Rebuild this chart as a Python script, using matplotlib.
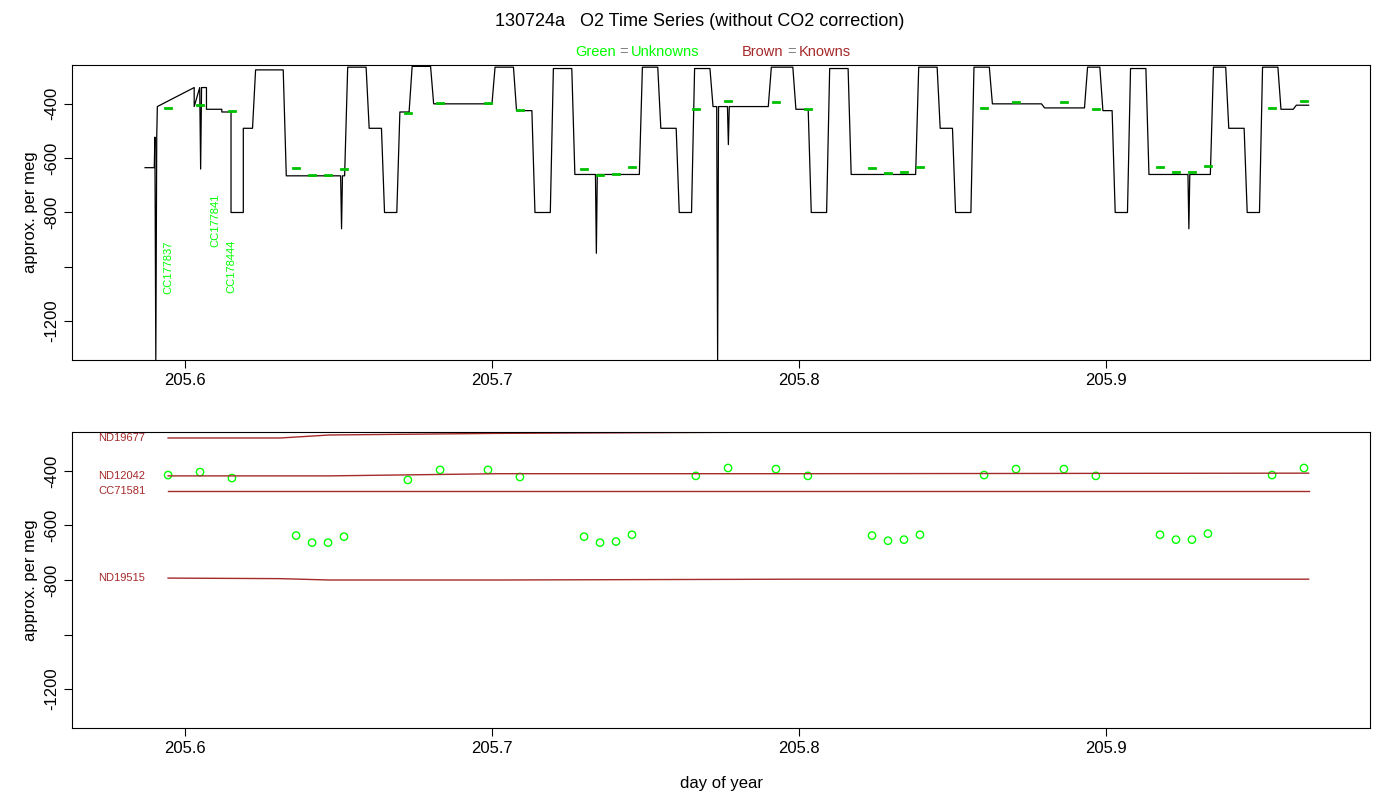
import numpy as np
import matplotlib
matplotlib.use("Agg")
import matplotlib.pyplot as plt

plt.rcParams["font.family"] = "Liberation Sans"

# ---- top panel: plateau segments (start day, end day, level) ----
seg_start = [205.587,205.591,205.603,205.607,205.612,205.615,205.619,205.623,205.633,205.653,205.660,205.665,205.670,205.674,205.681,205.701,205.708,205.714,205.720,205.727,205.749,205.755,205.761,205.766,205.772,205.791,205.799,205.804,205.810,205.817,205.839,205.846,205.851,205.857,205.863,205.880,205.894,205.899,205.903,205.908,205.914,205.935,205.940,205.946,205.951,205.957,205.962]
seg_end   = [205.590,205.603,205.607,205.612,205.615,205.619,205.622,205.632,205.652,205.659,205.664,205.669,205.673,205.680,205.700,205.707,205.713,205.719,205.726,205.748,205.754,205.760,205.765,205.771,205.790,205.798,205.803,205.809,205.816,205.838,205.845,205.850,205.856,205.862,205.879,205.893,205.898,205.902,205.907,205.913,205.934,205.939,205.945,205.950,205.956,205.961,205.966]
seg_level = [-635,-410,-340,-420,-430,-800,-490,-275,-665,-265,-490,-800,-430,-262,-400,-265,-425,-800,-270,-660,-265,-490,-800,-270,-410,-265,-420,-800,-270,-660,-265,-490,-800,-265,-400,-415,-265,-425,-800,-270,-660,-265,-490,-800,-265,-420,-405]
spike_t = [205.5905,205.6051,205.6510,205.7340,205.7735,205.7770,205.9270]
spike_v = [-1343,-640,-860,-950,-1343,-550,-860]

# ---- bottom panel: standards and unknowns ----
std_names = ["ND19677","ND12042","CC71581","ND19515"]
std_t = [205.5945,205.631,205.647,205.702,205.800,205.966]
std_vals = {
    "ND19677":[-279,-279,-268,-262,-257,-257],
    "ND12042":[-418,-418,-418,-410,-410,-408],
    "CC71581":[-473,-473,-473,-473,-473,-473],
    "ND19515":[-793,-795,-800,-800,-797,-797],
}
unk_t = [205.5945,205.6049,205.6153,205.6362,205.6414,205.6466,205.6518,205.6726,205.6831,205.6987,205.7091,205.7300,205.7352,205.7404,205.7456,205.7664,205.7769,205.7925,205.8029,205.8238,205.8290,205.8342,205.8394,205.8603,205.8707,205.8863,205.8967,205.9176,205.9228,205.9280,205.9332,205.9541,205.9645]
unk_v = [-415,-404,-426,-637,-663,-663,-641,-433,-396,-396,-422,-641,-663,-659,-634,-418,-389,-393,-418,-637,-656,-652,-634,-415,-393,-393,-418,-634,-652,-652,-630,-415,-389]
unk_labels = [("CC177837",205.5945,-1000),("CC177841",205.6100,-830),("CC178444",205.6150,-1000)]

xticks = [205.6,205.7,205.8,205.9]
yticks = [-400,-600,-800,-1000,-1200]
yticklabels = ["-400","-600","-800","","-1200"]
brown = "#a52a2a"
green = "#00ff00"

fig = plt.figure(figsize=(14,8), dpi=100)
ax1 = fig.add_axes([72/1400, 1-360/800, 1298/1400, 295/800])
ax2 = fig.add_axes([72/1400, 1-728/800, 1298/1400, 296/800])

# build top series
pt_t, pt_v = [], []
for s,e,v in zip(seg_start,seg_end,seg_level):
    pt_t += [s,e]; pt_v += [v,v]
pt_t = np.array(pt_t); pt_v = np.array(pt_v)
allt = list(pt_t); allv = list(pt_v)
for t,v in zip(spike_t,spike_v):
    b = np.interp(t, pt_t, pt_v)
    allt += [t-0.0003, t, t+0.0003]; allv += [b, v, b]
o = np.argsort(allt)
ax1.plot(np.array(allt)[o], np.array(allv)[o], color="black", lw=0.9)
for t,v in zip(unk_t,unk_v):
    ax1.plot([t-0.001,t+0.001],[v,v],color="#00c000",lw=2)
for name,t,v in unk_labels:
    ax1.text(t,v,name,rotation=90,color=green,fontsize=8,ha="center",va="center")

for n in std_names:
    ax2.plot(std_t, std_vals[n], color=brown, lw=1)
    ax2.text(205.5717, std_vals[n][0], n, color=brown, fontsize=8, ha="left", va="center")
ax2.scatter(unk_t, unk_v, s=28, facecolors="none", edgecolors=green, linewidths=1)

for ax in (ax1,ax2):
    ax.set_xlim(205.5632,205.986)
    ax.set_ylim(-1343,-257)
    ax.set_xticks(xticks); ax.set_xticklabels([str(x) for x in xticks], fontsize=12)
    ax.set_yticks(yticks); ax.set_yticklabels(yticklabels, fontsize=12, rotation=90, va="center")
    ax.set_ylabel("approx. per meg", fontsize=12)
    ax.tick_params(length=6)
ax2.set_xlabel("day of year", fontsize=12, labelpad=14)

fig.text(0.5, 1-22/800, "130724a   O2 Time Series (without CO2 correction)", ha="center", va="center", fontsize=13)
y = 1-52/800
fig.text(575/1400, y, "Green", color=green, fontsize=10.5, va="center")
fig.text(619/1400, y, "=", color="gray", fontsize=10.5, va="center")
fig.text(631/1400, y, "Unknowns", color=green, fontsize=10.5, va="center")
fig.text(742/1400, y, "Brown", color=brown, fontsize=10.5, va="center")
fig.text(787/1400, y, "=", color="gray", fontsize=10.5, va="center")
fig.text(799/1400, y, "Knowns", color=brown, fontsize=10.5, va="center")

fig.savefig("out.png", dpi=100)
